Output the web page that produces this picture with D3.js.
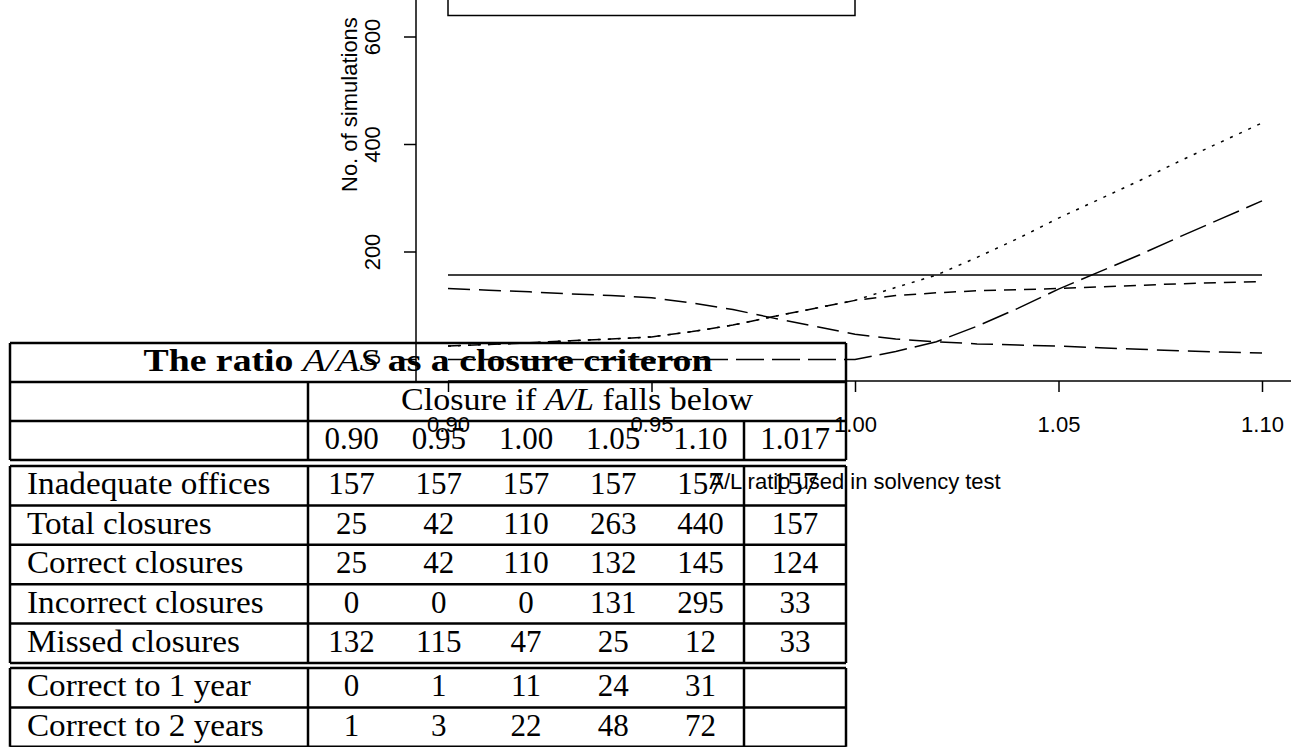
<!DOCTYPE html>
<html>
<head>
<meta charset="utf-8">
<script src="https://cdn.jsdelivr.net/npm/d3@7"></script>
<style>
  body { margin: 0; background: #fff; }
  svg { display: block; }
  .plot text { font-family: "Liberation Sans", Arial, sans-serif; font-size: 22px; fill: #000; }
  .tab text { font-family: "Liberation Serif", "Times New Roman", serif; font-size: 31px; fill: #000; }
</style>
</head>
<body>
<svg id="chart" width="1291" height="747"></svg>
<script>

// A/L thresholds used in the plot
const ratios = [0.90, 0.91, 0.92, 0.93, 0.94, 0.95, 0.96, 0.97, 0.98, 0.99, 1.00,
                1.01, 1.02, 1.03, 1.04, 1.05, 1.06, 1.07, 1.08, 1.09, 1.10]

// series
const inadequate = [157, 157, 157, 157, 157, 157, 157, 157, 157, 157, 157,
                    157, 157, 157, 157, 157, 157, 157, 157, 157, 157]
const totalClos  = [25, 28, 31, 35, 38, 42, 52, 64, 80, 95, 110,
                    134, 157, 190, 225, 263, 298, 333, 370, 405, 440]
const correctClos = [25, 28, 31, 35, 38, 42, 52, 64, 80, 95, 110,
                     119, 124, 128, 130, 132, 135, 138, 141, 143, 145]
const incorrectClos = [0, 0, 0, 0, 0, 0, 0, 0, 0, 0, 0,
                       15, 33, 62, 95, 131, 163, 195, 229, 262, 295]
const missedClos = [132, 129, 126, 122, 119, 115, 105, 93, 77, 62, 47,
                    38, 33, 29, 27, 25, 22, 19, 16, 14, 12]

const xTicks = [0.90, 0.95, 1.00, 1.05, 1.10]
const yTicks = [0, 200, 400, 600, 800]

// table contents
const tableTitle = ["The ratio ", "A/AS", " as a closure criteron"]
const headerText = ["Closure if ", "A/L", " falls below"]
const colLabels = ["0.90", "0.95", "1.00", "1.05", "1.10"]
const extraCol = "1.017"
const rowLabels = ["Inadequate offices", "Total closures", "Correct closures",
                   "Incorrect closures", "Missed closures"]
const rowValues = [
  [157, 157, 157, 157, 157, 157],
  [25, 42, 110, 263, 440, 157],
  [25, 42, 110, 132, 145, 124],
  [0, 0, 0, 131, 295, 33],
  [132, 115, 47, 25, 12, 33]
]
const yearLabels = ["Correct to 1 year", "Correct to 2 years"]
const yearValues = [
  [0, 1, 11, 24, 31],
  [1, 3, 22, 48, 72]
]

const svg = d3.select("#chart")

// ---------- the R-style plot ----------
const x = d3.scaleLinear().domain([0.90, 1.10]).range([448, 1262])
const y = d3.scaleLinear().domain([0, 600]).range([359.5, 37])

const plot = svg.append("g").attr("class", "plot")

// legend box (only its lower part is on the page)
plot.append("rect")
  .attr("x", x(0.90))
  .attr("y", y(800))
  .attr("width", x(1.00) - x(0.90))
  .attr("height", y(640) - y(800))
  .attr("fill", "none")
  .attr("stroke", "#000")
  .attr("stroke-width", 1.5)

const series = [
  { values: inadequate,    dash: null },
  { values: totalClos,     dash: "3,7" },
  { values: correctClos,   dash: "12,8" },
  { values: incorrectClos, dash: "28,8" },
  { values: missedClos,    dash: "22,9" }
]

const line = d3.line()
  .x((d, i) => x(ratios[i]))
  .y(d => y(d))

plot.selectAll(".series")
  .data(series)
  .enter().append("path")
    .attr("class", "series")
    .attr("d", d => line(d.values))
    .attr("fill", "none")
    .attr("stroke", "#000")
    .attr("stroke-width", 1.5)
    .attr("stroke-dasharray", d => d.dash)

// x axis
const xAxisY = 381
const xAxis = plot.append("g")
  .attr("transform", `translate(0, ${xAxisY})`)
  .call(d3.axisBottom(x).tickValues(xTicks).tickSize(11).tickPadding(24)
        .tickFormat(d3.format(".2f")))
xAxis.select(".domain").remove()
xAxis.selectAll("line").attr("stroke-width", 1.5)
xAxis.selectAll("text").attr("font-family", null).attr("font-size", null)
xAxis.append("line")
  .attr("x1", x(0.90)).attr("x2", x(1.18))
  .attr("stroke", "#000").attr("stroke-width", 1.5)

plot.append("text")
  .attr("x", x(1.00))
  .attr("y", 489)
  .attr("text-anchor", "middle")
  .text("A/L ratio used in solvency test")

// y axis
const yAxisX = 416
plot.append("line")
  .attr("x1", yAxisX).attr("x2", yAxisX)
  .attr("y1", xAxisY).attr("y2", y(800))
  .attr("stroke", "#000").attr("stroke-width", 1.5)

plot.selectAll(".ytick")
  .data(yTicks)
  .enter().append("line")
    .attr("class", "ytick")
    .attr("x1", yAxisX - 12).attr("x2", yAxisX)
    .attr("y1", d => y(d)).attr("y2", d => y(d))
    .attr("stroke", "#000").attr("stroke-width", 1.5)

plot.selectAll(".ylab")
  .data(yTicks)
  .enter().append("text")
    .attr("class", "ylab")
    .attr("text-anchor", "middle")
    .attr("transform", d => `translate(380, ${y(d)}) rotate(-90)`)
    .text(d => d)

plot.append("text")
  .attr("transform", "translate(357, 192) rotate(-90)")
  .attr("text-anchor", "start")
  .text("No. of simulations")

// ---------- the LaTeX table laid over it ----------
const tab = svg.append("g").attr("class", "tab")
const left = 10, right = 846, col1 = 308, colX = 744
const bw = 2.5

const colScale = d3.scaleBand().domain(colLabels).range([col1, colX])
const colCenter = i => colScale(colLabels[i]) + colScale.bandwidth() / 2
const extraCenter = (colX + right) / 2

function hline(y0, x0, x1) {
  tab.append("line").attr("x1", x0).attr("x2", x1).attr("y1", y0).attr("y2", y0)
    .attr("stroke", "#000").attr("stroke-width", bw)
}
function vline(x0, y0, y1) {
  tab.append("line").attr("x1", x0).attr("x2", x0).attr("y1", y0).attr("y2", y1)
    .attr("stroke", "#000").attr("stroke-width", bw)
}
// stretch a text horizontally so it gets the width of Computer Modern
function stretch(sel, k) {
  sel.each(function () {
    const w = this.getComputedTextLength()
    d3.select(this).attr("textLength", w * k).attr("lengthAdjust", "spacingAndGlyphs")
  })
}

// box 1: title and header rows
const r1 = [343, 382, 421, 460]
r1.forEach(v => hline(v, left, right))
vline(left, r1[0], r1[3]); vline(right, r1[0], r1[3])
vline(col1, r1[1], r1[3]); vline(colX, r1[2], r1[3])

const title = tab.append("text")
  .attr("x", (left + right) / 2).attr("y", 371)
  .attr("text-anchor", "middle")
title.selectAll("tspan").data(tableTitle).enter().append("tspan")
  .attr("font-weight", (d, i) => i === 1 ? "normal" : "bold")
  .attr("font-style", (d, i) => i === 1 ? "italic" : "normal")
  .text(d => d)
title.attr("textLength", 569).attr("lengthAdjust", "spacingAndGlyphs")

const head = tab.append("text")
  .attr("x", (col1 + right) / 2).attr("y", 410)
  .attr("text-anchor", "middle")
head.selectAll("tspan").data(headerText).enter().append("tspan")
  .attr("font-style", (d, i) => i === 1 ? "italic" : "normal")
  .text(d => d)
head.attr("textLength", 352).attr("lengthAdjust", "spacingAndGlyphs")

tab.selectAll(".colhead").data(colLabels).enter().append("text")
  .attr("class", "colhead")
  .attr("x", (d, i) => colCenter(i)).attr("y", 449)
  .attr("text-anchor", "middle")
  .text(d => d)
tab.append("text")
  .attr("x", extraCenter).attr("y", 449)
  .attr("text-anchor", "middle")
  .text(extraCol)

// box 2: main counts
const rowH = (663 - 466) / rowLabels.length
const r2 = d3.range(rowLabels.length + 1).map(i => 466 + i * rowH)
r2.forEach(v => hline(v, left, right))
;[left, col1, colX, right].forEach(v => vline(v, r2[0], r2[r2.length - 1]))

const rows = tab.selectAll(".row").data(rowValues).enter().append("g")
  .attr("class", "row")
  .attr("transform", (d, i) => `translate(0, ${r2[i + 1] - 11})`)
rows.append("text").attr("x", 27)
  .text((d, i) => rowLabels[i])
  .call(stretch, 1.07)
rows.selectAll(".num").data(d => d).enter().append("text")
  .attr("class", "num")
  .attr("x", (d, i) => i < colLabels.length ? colCenter(i) : extraCenter)
  .attr("text-anchor", "middle")
  .text(d => d)

// box 3: timing rows
const r3 = d3.range(yearLabels.length + 1).map(i => 668 + i * rowH)
r3.forEach(v => hline(v, left, right))
;[left, col1, colX, right].forEach(v => vline(v, r3[0], r3[r3.length - 1]))

const yrows = tab.selectAll(".yrow").data(yearValues).enter().append("g")
  .attr("class", "yrow")
  .attr("transform", (d, i) => `translate(0, ${r3[i + 1] - 11})`)
yrows.append("text").attr("x", 27)
  .text((d, i) => yearLabels[i])
  .call(stretch, 1.07)
yrows.selectAll(".num").data(d => d).enter().append("text")
  .attr("class", "num")
  .attr("x", (d, i) => colCenter(i))
  .attr("text-anchor", "middle")
  .text(d => d)

</script>
</body>
</html>
